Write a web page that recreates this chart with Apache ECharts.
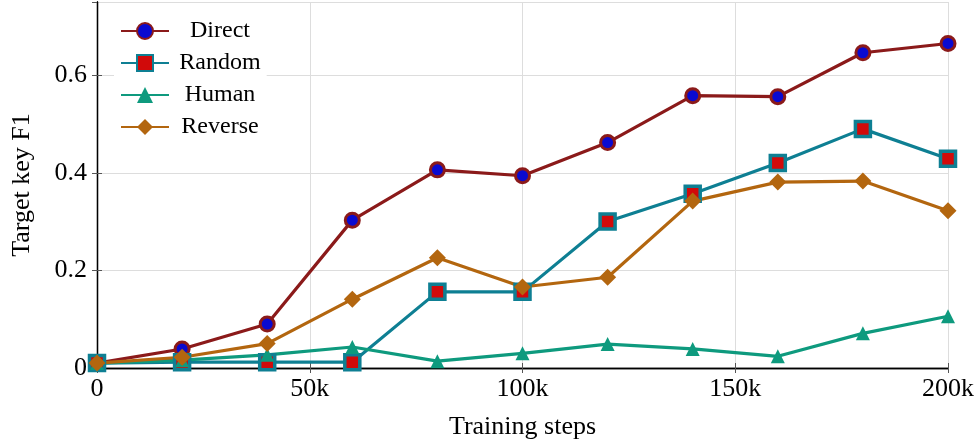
<!DOCTYPE html>
<html>
<head>
<meta charset="utf-8">
<script src="https://cdn.jsdelivr.net/npm/echarts@6/dist/echarts.min.js"></script>
<style>
  html, body { margin: 0; padding: 0; background: #fff; }
  #chart { width: 979px; height: 439px; }
</style>
</head>
<body>
<div id="chart"></div>
<script>
const steps = [0, 20000, 40000, 60000, 80000, 100000, 120000, 140000, 160000, 180000, 200000];
const direct = [0.01, 0.039, 0.09, 0.303, 0.406, 0.394, 0.462, 0.558, 0.556, 0.646, 0.665];
const random = [0.01, 0.012, 0.012, 0.012, 0.156, 0.156, 0.300, 0.357, 0.420, 0.490, 0.429];
const human = [0.01, 0.016, 0.027, 0.043, 0.014, 0.030, 0.049, 0.039, 0.024, 0.071, 0.106];
const reverse = [0.01, 0.022, 0.050, 0.141, 0.226, 0.166, 0.186, 0.342, 0.381, 0.383, 0.322];

const font = 'Liberation Serif';
const pairs = arr => steps.map((s, i) => [s, arr[i]]);

const chart = echarts.init(document.getElementById('chart'));

const mkSeries = (name, data, color, symbol, size, style) => ({
    name: name,
    type: 'line',
    data: pairs(data),
    symbol: symbol,
    symbolSize: size,
    lineStyle: { color: color, width: 3.2 },
    itemStyle: style,
    emphasis: { disabled: true },
    z: 3
});

const frameAxis = {
    axisLine: { show: true, lineStyle: { color: '#000', width: 1.3 } },
    axisTick: { show: true, inside: true, length: 5, lineStyle: { color: '#555' } },
    axisLabel: { show: false },
    splitLine: { show: false }
};

chart.setOption({
    animation: false,
    grid: { left: 97, right: 31, top: 2, bottom: 71, outerBoundsMode: 'none', containLabel: false },
    legend: {
        orient: 'vertical',
        left: 114,
        top: 15,
        itemWidth: 48,
        itemHeight: 20,
        itemGap: 8,
        backgroundColor: '#fff',
        padding: [4, 6, 4, 6],
        formatter: '{c|{name}}',
        textStyle: {
            fontFamily: font, fontSize: 24, color: '#000',
            rich: { c: { fontFamily: font, fontSize: 24, color: '#000', width: 92, align: 'center' } }
        },
        data: ['Direct', 'Random', 'Human', 'Reverse']
    },
    xAxis: [{
        type: 'value',
        min: 0,
        max: 200000,
        interval: 50000,
        name: 'Training steps',
        nameLocation: 'middle',
        nameGap: 46,
        nameTextStyle: { fontFamily: font, fontSize: 26, color: '#000' },
        axisLine: { show: true, onZero: false, lineStyle: { color: '#000', width: 1.3 } },
        axisTick: { show: true, inside: true, length: 5, lineStyle: { color: '#555' } },
        axisLabel: {
            fontFamily: font, fontSize: 26, color: '#000', margin: 8,
            formatter: v => v === 0 ? '0' : (v / 1000) + 'k'
        },
        splitLine: { show: true, lineStyle: { color: '#ddd', width: 1 } }
    }, Object.assign({
        type: 'value',
        position: 'top',
        min: 0,
        max: 200000,
        interval: 50000
    }, frameAxis)],
    yAxis: [{
        type: 'value',
        min: 0,
        max: 0.75,
        interval: 0.2,
        name: 'Target key F1',
        nameLocation: 'middle',
        nameGap: 62,
        nameTextStyle: { fontFamily: font, fontSize: 26, color: '#000' },
        axisLine: { show: true, onZero: false, lineStyle: { color: '#000', width: 1.3 } },
        axisTick: { show: true, inside: true, length: 5, lineStyle: { color: '#555' } },
        axisLabel: {
            fontFamily: font, fontSize: 26, color: '#000', margin: 10,
            formatter: v => v === 0 ? '0' : v.toFixed(1),
            showMaxLabel: false
        },
        splitLine: { show: true, lineStyle: { color: '#ddd', width: 1 } }
    }, Object.assign({
        type: 'value',
        position: 'right',
        min: 0,
        max: 0.75,
        interval: 0.2
    }, frameAxis)],
    series: [
        mkSeries('Direct', direct, '#8b1a1a', 'circle', 14,
            { color: '#0a0ad0', borderColor: '#8b1a1a', borderWidth: 3 }),
        mkSeries('Random', random, '#0e7f93', 'rect', 15,
            { color: '#d10a0a', borderColor: '#0e7f93', borderWidth: 3.5 }),
        mkSeries('Human', human, '#0e9a7e', 'triangle', 14,
            { color: '#0e9a7e' }),
        mkSeries('Reverse', reverse, '#b3660f', 'diamond', 17,
            { color: '#b3660f' })
    ]
});
</script>
</body>
</html>
